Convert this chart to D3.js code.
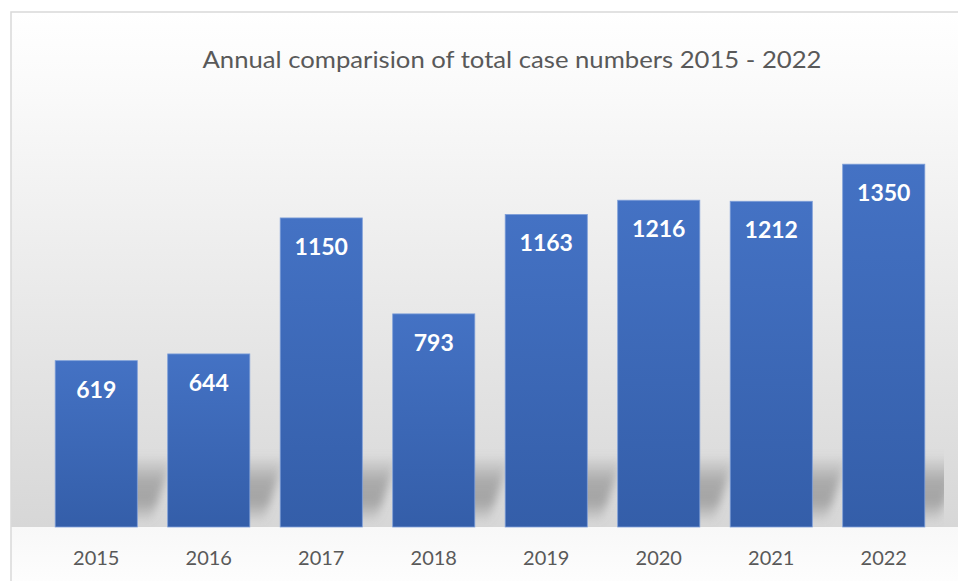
<!DOCTYPE html>
<html>
<head>
<meta charset="utf-8">
<script src="https://cdn.jsdelivr.net/npm/d3@7"></script>
<style>
    html, body { margin: 0; padding: 0; background: #ffffff; }
    svg { display: block; }
</style>
</head>
<body>
<svg id="chart" width="958" height="581"></svg>
<script>

// data
const years = ["2015", "2016", "2017", "2018", "2019", "2020", "2021", "2022"];
const caseCounts = [619, 644, 1150, 793, 1163, 1216, 1212, 1350];
const chartTitle = "Annual comparision of total case numbers 2015 - 2022";


const annualChart = function(){

    const render = function(target_id){
        let svg = d3.select('#'+target_id),
            width = +svg.attr("width"),
            height = +svg.attr("height");

        let plot = {left: 40, right: 940, top: 97, bottom: 527};

        let defs = svg.append("defs");

        // chart area gradient (white -> grey, then white floor under the bars)
        let bg = defs.append("linearGradient")
            .attr("id", "bgGrad")
            .attr("x1", 0).attr("y1", 0).attr("x2", 0).attr("y2", 1);
        bg.append("stop").attr("offset", "0%").attr("stop-color", "#ffffff");
        bg.append("stop").attr("offset", "15%").attr("stop-color", "#fafafa");
        bg.append("stop").attr("offset", "100%").attr("stop-color", "#d7d7d7");

        let floor = defs.append("linearGradient")
            .attr("id", "floorGrad")
            .attr("x1", 0).attr("y1", 0).attr("x2", 0).attr("y2", 1);
        floor.append("stop").attr("offset", "0%").attr("stop-color", "#f8f8f8");
        floor.append("stop").attr("offset", "100%").attr("stop-color", "#ffffff");

        let barGrad = defs.append("linearGradient")
            .attr("id", "barGrad")
            .attr("x1", 0).attr("y1", 0).attr("x2", 0).attr("y2", 1);
        barGrad.append("stop").attr("offset", "0%").attr("stop-color", "#4472c4");
        barGrad.append("stop").attr("offset", "100%").attr("stop-color", "#345ea9");

        let shadowGrad = defs.append("linearGradient")
            .attr("id", "shadowGrad")
            .attr("x1", 0).attr("y1", 0).attr("x2", 0).attr("y2", 1);
        shadowGrad.append("stop").attr("offset", "0%").attr("stop-color", "#7a7a7a").attr("stop-opacity", 0);
        shadowGrad.append("stop").attr("offset", "40%").attr("stop-color", "#7a7a7a").attr("stop-opacity", 0.5);
        shadowGrad.append("stop").attr("offset", "70%").attr("stop-color", "#7a7a7a").attr("stop-opacity", 0.55);
        shadowGrad.append("stop").attr("offset", "100%").attr("stop-color", "#7a7a7a").attr("stop-opacity", 0.05);

        defs.append("filter")
            .attr("id", "blur")
            .attr("x", "-30%").attr("y", "-30%").attr("width", "160%").attr("height", "160%")
            .append("feGaussianBlur")
            .attr("stdDeviation", 4);

        defs.append("clipPath")
            .attr("id", "plotClip")
            .append("rect")
            .attr("x", 12).attr("y", 12)
            .attr("width", plot.right + 4 - 12)
            .attr("height", plot.bottom - 12);

        svg.append("rect")
            .attr("x", 11).attr("y", 12)
            .attr("width", 1100).attr("height", plot.bottom - 12)
            .attr("fill", "url(#bgGrad)");

        svg.append("rect")
            .attr("x", 11).attr("y", plot.bottom)
            .attr("width", 1100).attr("height", height - plot.bottom + 20)
            .attr("fill", "url(#floorGrad)");

        // border
        svg.append("rect")
            .attr("x", 11).attr("y", 12)
            .attr("width", 1100).attr("height", 700)
            .attr("fill", "none")
            .attr("stroke", "#d9d9d9")
            .attr("stroke-width", 1.5);

        var xScale = d3.scaleBand()
                        .domain(years)
                        .range([plot.left, plot.right])
                        .paddingInner(0.27)
                        .paddingOuter(0.135);

        var yScale = d3.scaleLinear()
                        .domain([0, 1600])
                        .range([plot.bottom, plot.top]);

        let data = years.map(function(y, i){ return {year: y, value: caseCounts[i]} });

        // soft cast shadows behind the bars
        svg.append("g")
            .attr("clip-path", "url(#plotClip)")
            .selectAll(".shadow")
            .data(data)
            .enter()
            .append("path")
            .attr("class", "shadow")
            .attr("fill", "url(#shadowGrad)")
            .attr("filter", "url(#blur)")
            .attr("d", function(d){
                let x0 = xScale(d.year), x1 = x0 + xScale.bandwidth(),
                    b = yScale(0), h = 72, s = 22, off = 14;
                return "M" + (x0 + off) + "," + (b - 6) +
                       "L" + (x1 + off) + "," + (b - 6) +
                       "L" + (x1 + s + off) + "," + (b - h) +
                       "L" + (x0 + s + off) + "," + (b - h) + "Z";
            });

        svg.selectAll(".bar")
            .data(data)
            .enter()
            .append("rect")
            .attr("class", "bar")
            .attr("x", function(d){ return xScale(d.year) })
            .attr("y", function(d){ return yScale(d.value) })
            .attr("width", xScale.bandwidth())
            .attr("height", function(d){ return yScale(0) - yScale(d.value) })
            .attr("fill", "url(#barGrad)")
            .attr("stroke", "#7e9fd9")
            .attr("stroke-width", 0.8);

        svg.selectAll(".value")
            .data(data)
            .enter()
            .append("text")
            .attr("class", "value")
            .attr("x", function(d){ return xScale(d.year) + xScale.bandwidth()/2 })
            .attr("y", function(d){ return yScale(d.value) + 37 })
            .attr("text-anchor", "middle")
            .attr("font-family", "Lato, 'Open Sans', sans-serif")
            .attr("font-weight", "bold")
            .attr("font-size", 23)
            .attr("fill", "#ffffff")
            .text(function(d){ return d.value });

        svg.selectAll(".year")
            .data(data)
            .enter()
            .append("text")
            .attr("class", "year")
            .attr("x", function(d){ return xScale(d.year) + xScale.bandwidth()/2 })
            .attr("y", 565)
            .attr("text-anchor", "middle")
            .attr("font-family", "Lato, 'Open Sans', sans-serif")
            .attr("font-size", 20)
            .attr("fill", "#595959")
            .text(function(d){ return d.year });

        svg.append("text")
            .attr("class", "title")
            .attr("x", 512)
            .attr("y", 68)
            .attr("text-anchor", "middle")
            .attr("font-family", "Lato, 'Open Sans', sans-serif")
            .attr("font-size", 24)
            .attr("textLength", 619)
            .attr("lengthAdjust", "spacingAndGlyphs")
            .attr("fill", "#595959")
            .text(chartTitle);
    };

    return {
        render: render
    }

}();

annualChart.render("chart");

</script>
</body>
</html>
